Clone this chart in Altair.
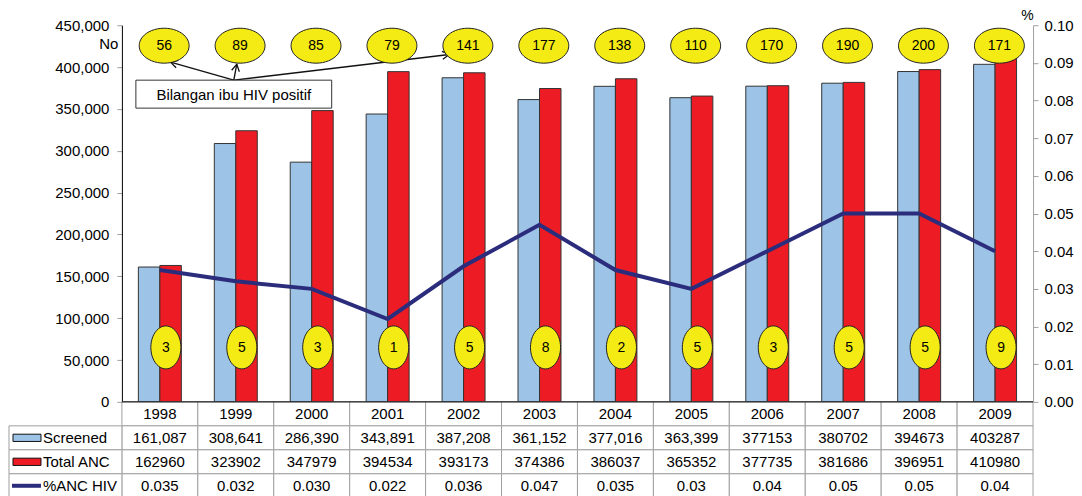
import math
import altair as alt
import pandas as pd

# ---------------- data ----------------
years = ["1998", "1999", "2000", "2001", "2002", "2003", "2004", "2005", "2006", "2007", "2008", "2009"]
screened = [161087, 308641, 286390, 343891, 387208, 361152, 377016, 363399, 377153, 380702, 394673, 403287]
total_anc = [162960, 323902, 347979, 394534, 393173, 374386, 386037, 365352, 377735, 381686, 396951, 410980]
pct_hiv = [0.035, 0.032, 0.030, 0.022, 0.036, 0.047, 0.035, 0.03, 0.04, 0.05, 0.05, 0.04]
hiv_mothers = [56, 89, 85, 79, 141, 177, 138, 110, 170, 190, 200, 171]
small_counts = [3, 5, 3, 1, 5, 8, 2, 5, 3, 5, 5, 9]

screened_labels = ["161,087", "308,641", "286,390", "343,891", "387,208", "361,152",
                   "377,016", "363,399", "377153", "380702", "394673", "403287"]
total_labels = ["162960", "323902", "347979", "394534", "393173", "374386",
                "386037", "365352", "377735", "381686", "396951", "410980"]
pct_labels = ["0.035", "0.032", "0.030", "0.022", "0.036", "0.047",
              "0.035", "0.03", "0.04", "0.05", "0.05", "0.04"]

series_names = ["Screened", "Total ANC", "%ANC HIV"]
callout_text = "Bilangan ibu HIV positif"
left_title = "No"
right_title = "%"

# ---------------- styles ----------------
FONT = "Liberation Sans"
BLUE = "#9DC3E6"
RED = "#ED1C24"
NAVY = "#2B2D7C"
YELLOW = "#F5EB14"
GRID = "#A0A0A0"
W, H = 912, 377
TH = 96


def ellipse_path(rx, ry, n=48):
    pts = []
    for i in range(n):
        a = 2 * math.pi * i / n
        pts.append(f"{rx * math.cos(a):.4f},{ry * math.sin(a):.4f}")
    return "M" + "L".join(pts) + "Z"


ELL_H = ellipse_path(1.0, 0.7)
ELL_V = ellipse_path(0.7, 1.0)
SWATCH = "M-1,-0.26L1,-0.26L1,0.26L-1,0.26Z"
CHEVRON = "M-0.45,0.8L0,0L0.45,0.8"

# ---------------- tables ----------------
bars_df = pd.DataFrame({
    "year": years * 2,
    "series": ["Screened"] * 12 + ["Total ANC"] * 12,
    "value": screened + total_anc,
})
df = pd.DataFrame({"year": years, "pct": pct_hiv, "mothers": hiv_mothers, "small": small_counts})
one = pd.DataFrame({"k": [0]})

x_scale = alt.Scale(domain=years, paddingInner=0.434, paddingOuter=0.217)


def xenc(bp=0.5):
    return alt.X("year:N", sort=years, scale=x_scale, axis=None, bandPosition=bp)


bars = alt.Chart(bars_df).mark_bar(stroke="#333333", strokeWidth=1).encode(
    x=xenc(),
    xOffset=alt.XOffset("series:N", sort=["Screened", "Total ANC"],
                        scale=alt.Scale(paddingInner=0, paddingOuter=0)),
    y=alt.Y("value:Q", scale=alt.Scale(domain=[0, 450000], nice=False),
            axis=alt.Axis(values=list(range(0, 450001, 50000)), format=",.0f", grid=False,
                          title=left_title, titleAngle=0, titleAlign="right", titleX=-4, titleY=23,
                          titleBaseline="alphabetic", titleFontWeight="normal", titleFontSize=15,
                          titleColor="#000", labelFontSize=15, labelColor="#000", labelPadding=8,
                          tickSize=5, tickColor=GRID, domainColor="#000")),
    color=alt.Color("series:N", scale=alt.Scale(domain=["Screened", "Total ANC"], range=[BLUE, RED]),
                    legend=None),
)

line = alt.Chart(df).mark_line(color=NAVY, strokeWidth=4).encode(
    x=xenc(),
    y=alt.Y("pct:Q", scale=alt.Scale(domain=[0, 0.1], nice=False),
            axis=alt.Axis(orient="right", values=[round(i * 0.01, 2) for i in range(11)], format=".2f",
                          grid=False, title=right_title, titleAngle=0, titleAlign="center", titleX=-6,
                          titleY=-6, titleBaseline="alphabetic", titleFontWeight="normal",
                          titleFontSize=14, titleColor="#000", labelFontSize=15, labelColor="#000",
                          labelPadding=6, tickSize=5, tickColor=GRID, domainColor=GRID)),
)

top_ell = alt.Chart(df).mark_point(shape=ELL_H, size=2500, filled=True, fill=YELLOW, stroke="#222",
                                   strokeWidth=1, opacity=1).encode(x=xenc(0.6), y=alt.value(20.5))
top_txt = alt.Chart(df).mark_text(fontSize=14, baseline="middle").encode(
    x=xenc(0.6), y=alt.value(21), text="mothers:N")

bot_ell = alt.Chart(df).mark_point(shape=ELL_V, size=1849, filled=True, fill=YELLOW, stroke="#222",
                                   strokeWidth=1, opacity=1).encode(x=xenc(0.64), y=alt.value(322.5))
bot_txt = alt.Chart(df).mark_text(fontSize=14, baseline="middle").encode(
    x=xenc(0.64), y=alt.value(323), text="small:N")

# callout with arrows (annotation, pixel positions inside the plot)
origin = (112, 55)
tips = [(48.7, 37), (115, 39), (327.7, 29.3)]
ann_layers = []
for tx, ty in tips:
    ann_layers.append(alt.Chart(one).mark_rule(color="#111", strokeWidth=1.3).encode(
        x=alt.value(origin[0]), y=alt.value(origin[1]), x2=alt.value(tx), y2=alt.value(ty)))
    ang = math.degrees(math.atan2(tx - origin[0], -(ty - origin[1]))) % 360
    ann_layers.append(alt.Chart(one).mark_point(shape=CHEVRON, size=300, filled=False, stroke="#111",
                                                strokeWidth=1.3, angle=ang, opacity=1).encode(
        x=alt.value(tx), y=alt.value(ty)))
box = alt.Chart(one).mark_rect(fill="white", stroke="#333", strokeWidth=1).encode(
    x=alt.value(14), x2=alt.value(210), y=alt.value(55), y2=alt.value(83))
box_txt = alt.Chart(pd.DataFrame({"t": [callout_text]})).mark_text(fontSize=15, baseline="middle").encode(
    x=alt.value(112), y=alt.value(69.5), text="t:N")

main = alt.layer(bars, line, bot_ell, bot_txt, *ann_layers, box, box_txt, top_ell, top_txt).resolve_scale(
    y="independent").properties(width=W, height=H)

# ---------------- data table ----------------
rows = ["year"] + series_names
tab_df = pd.DataFrame({
    "year": years * 4,
    "row": ["year"] * 12 + ["Screened"] * 12 + ["Total ANC"] * 12 + ["%ANC HIV"] * 12,
    "label": years + screened_labels + total_labels + pct_labels,
})
tx_scale = alt.Scale(domain=years, paddingInner=0, paddingOuter=0)
ty_scale = alt.Scale(domain=rows, paddingInner=0, paddingOuter=0)
tx = alt.X("year:N", sort=years, scale=tx_scale, axis=None)
ty = alt.Y("row:N", sort=rows, scale=ty_scale, axis=None)

cells = alt.Chart(tab_df).mark_rect(fill="white", stroke=GRID, strokeWidth=1).encode(x=tx, y=ty)
cell_txt = alt.Chart(tab_df).mark_text(fontSize=15, baseline="middle").encode(x=tx, y=ty, text="label:N")

leg_df = pd.DataFrame({"row": series_names, "fill": [BLUE, RED, NAVY]})
left_cells = alt.Chart(leg_df).mark_rect(fill="white", stroke=GRID, strokeWidth=1).encode(
    x=alt.value(-113), x2=alt.value(0), y=ty)
left_txt = alt.Chart(leg_df).mark_text(fontSize=15, align="left", baseline="middle").encode(
    x=alt.value(-79), y=ty, text="row:N")
swatches = alt.Chart(leg_df.iloc[:2]).mark_point(shape=SWATCH, size=784, filled=True, stroke="#111",
                                                 strokeWidth=1, opacity=1).encode(
    x=alt.value(-95), y=ty, fill=alt.Fill("fill:N", scale=None))
line_sw = alt.Chart(leg_df.iloc[2:]).mark_rule(color=NAVY, strokeWidth=4).encode(
    x=alt.value(-110), x2=alt.value(-81), y=ty)
baseline = alt.Chart(pd.DataFrame({"row": ["year"]})).mark_rule(color="#000", strokeWidth=1).encode(
    y=alt.Y("row:N", sort=rows, scale=ty_scale, axis=None, bandPosition=0))

table = alt.layer(cells, cell_txt, left_cells, left_txt, swatches, line_sw, baseline).properties(
    width=W, height=TH)

chart = alt.vconcat(main, table, spacing=0, bounds="flush").resolve_scale(
    x="independent", y="independent").properties(padding=0).configure(font=FONT).configure_view(stroke=None)

chart.save("out.html", embed_options={"renderer": "svg", "actions": False})
